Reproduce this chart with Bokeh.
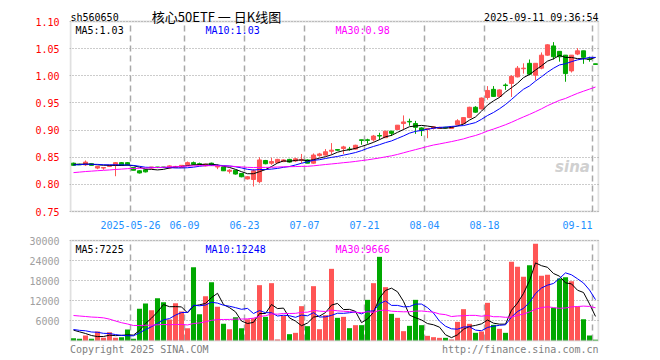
import numpy as np
import pandas as pd
from bokeh.plotting import figure
from bokeh.layouts import column
from bokeh.models import (Range1d, FixedTicker, Label, PrintfTickFormatter,
                          ColumnDataSource, BoxAnnotation)
from bokeh.embed import file_html
from bokeh.resources import INLINE

# ---------------- data ----------------
symbol = "sh560650"
title_text = "核心50ETF 一 日K线图"
timestamp = "2025-09-11 09:36:54"

open_ = [
    0.839, 0.837, 0.836, 0.838, 0.830, 0.830, 0.833, 0.835, 0.840, 0.840,
    0.831, 0.825, 0.827, 0.830, 0.832, 0.832, 0.830, 0.831, 0.831, 0.836,
    0.840, 0.838, 0.834, 0.839, 0.832, 0.832, 0.824, 0.826, 0.820, 0.810,
    0.809, 0.805, 0.844, 0.839, 0.840, 0.842, 0.846, 0.843, 0.844, 0.845,
    0.839, 0.853, 0.854, 0.861, 0.864, 0.866, 0.865, 0.865, 0.882, 0.882,
    0.882, 0.890, 0.886, 0.898, 0.901, 0.912, 0.916, 0.912, 0.904, 0.901,
    0.903, 0.903, 0.905, 0.903, 0.910, 0.912, 0.923, 0.942, 0.939, 0.960,
    0.975, 0.962, 0.983, 0.986, 0.998, 1.013, 1.023, 1.001, 1.014, 1.038,
    1.055, 1.045, 1.038, 1.009, 1.040, 1.046, 1.031, 1.022]
high = [
    0.840, 0.838, 0.844, 0.838, 0.833, 0.831, 0.835, 0.841, 0.841, 0.841,
    0.832, 0.826, 0.828, 0.832, 0.832, 0.832, 0.835, 0.834, 0.835, 0.842,
    0.842, 0.840, 0.838, 0.840, 0.837, 0.832, 0.828, 0.826, 0.821, 0.815,
    0.828, 0.850, 0.845, 0.849, 0.847, 0.846, 0.847, 0.849, 0.856, 0.846,
    0.857, 0.858, 0.865, 0.876, 0.864, 0.871, 0.869, 0.873, 0.882, 0.884,
    0.891, 0.895, 0.898, 0.898, 0.909, 0.927, 0.921, 0.917, 0.905, 0.903,
    0.907, 0.906, 0.906, 0.907, 0.920, 0.924, 0.943, 0.944, 0.960, 0.981,
    0.981, 0.975, 0.986, 1.001, 1.018, 1.023, 1.030, 1.023, 1.043, 1.058,
    1.062, 1.045, 1.038, 1.038, 1.051, 1.046, 1.035, 1.022]
low = [
    0.834, 0.836, 0.834, 0.835, 0.828, 0.827, 0.832, 0.815, 0.835, 0.835,
    0.826, 0.820, 0.822, 0.829, 0.830, 0.830, 0.829, 0.830, 0.830, 0.835,
    0.836, 0.836, 0.833, 0.835, 0.828, 0.825, 0.820, 0.818, 0.813, 0.809,
    0.796, 0.802, 0.837, 0.836, 0.839, 0.841, 0.840, 0.841, 0.839, 0.839,
    0.838, 0.851, 0.853, 0.855, 0.862, 0.856, 0.862, 0.864, 0.873, 0.875,
    0.879, 0.882, 0.886, 0.889, 0.901, 0.901, 0.908, 0.893, 0.889, 0.885,
    0.901, 0.902, 0.903, 0.902, 0.909, 0.911, 0.922, 0.932, 0.938, 0.956,
    0.961, 0.960, 0.974, 0.961, 0.997, 1.004, 1.001, 0.992, 1.012, 1.037,
    1.030, 1.026, 0.989, 1.006, 1.038, 1.022, 1.026, 1.021]
close = [
    0.835, 0.836, 0.841, 0.835, 0.833, 0.831, 0.835, 0.840, 0.835, 0.836,
    0.826, 0.821, 0.823, 0.832, 0.831, 0.831, 0.834, 0.833, 0.835, 0.840,
    0.837, 0.837, 0.837, 0.835, 0.833, 0.825, 0.826, 0.819, 0.814, 0.814,
    0.825, 0.845, 0.838, 0.842, 0.846, 0.845, 0.841, 0.847, 0.846, 0.839,
    0.854, 0.856, 0.860, 0.863, 0.863, 0.869, 0.864, 0.872, 0.881, 0.881,
    0.889, 0.889, 0.898, 0.894, 0.909, 0.915, 0.915, 0.905, 0.899, 0.903,
    0.906, 0.905, 0.904, 0.906, 0.917, 0.923, 0.942, 0.933, 0.959, 0.973,
    0.962, 0.974, 0.982, 0.999, 1.014, 1.014, 1.003, 1.023, 1.038, 1.057,
    1.035, 1.035, 1.004, 1.038, 1.046, 1.034, 1.030, 1.021]
volume = [
    700, 500, 1500, 500, 2700, 800, 2500, 800, 1000, 3300,
    500, 9500, 11100, 9100, 12700, 11500, 6300, 11200, 8700, 3700,
    22000, 7900, 13300, 17500, 10100, 5000, 3400, 7000, 3700, 6400,
    6700, 16600, 7100, 17200, 300, 7400, 1900, 2300, 10300, 4300,
    16300, 3400, 7600, 21500, 6800, 7100, 3700, 4600, 4600, 12200,
    17200, 25100, 16000, 8000, 6800, 2800, 4400, 12200, 4600, 1400,
    1000, 800, 800, 300, 5600, 9400, 5000, 2300, 2700, 11300,
    4700, 3500, 2300, 23600, 22100, 19100, 22600, 29000, 19400, 19700,
    9800, 18600, 19000, 17800, 10200, 6400, 1500, 225]

# sessions before the visible window (implied by where the MA lines start)
hist_close = [0.808, 0.810, 0.812, 0.809, 0.811, 0.814, 0.813, 0.815, 0.812, 0.814,
              0.813, 0.811, 0.814, 0.816, 0.818, 0.817, 0.820, 0.819, 0.822, 0.824,
              0.830, 0.833, 0.836, 0.835, 0.838, 0.836, 0.839, 0.837, 0.838]
hist_volume = [5000, 6000, 5500, 5200, 5300, 14000, 18000, 16000, 15000, 14100,
               9500, 8800, 9200, 8500, 8700, 9000, 8400, 8300, 8500, 9000,
               3000, 2800, 4200, 3500, 4000, 3000, 4000, 3500, 4300]

date_tick_index = [10, 19, 29, 39, 49, 59, 69, 87]
date_tick_labels = ["2025-05-26", "06-09", "06-23", "07-07", "07-21", "08-04", "08-18", "09-11"]
price_ticks = [0.75, 0.80, 0.85, 0.90, 0.95, 1.00, 1.05, 1.10]
volume_ticks = [6000, 12000, 18000, 24000, 30000]
price_ma_text = ["MA5:1.03", "MA10:1.03", "MA30:0.98"]
volume_ma_text = ["MA5:7225", "MA10:12248", "MA30:9666"]
copyright_text = "Copyright 2025 SINA.COM"
url_text = "http://finance.sina.com.cn"
MA_WINDOWS = [5, 10, 30]

# ---------------- style ----------------
RED = "#FF5555"
GREEN = "#00A800"
MA_COLORS = ["#000000", "#0000FF", "#FF00FF"]
BORDER = "#999999"
MONO = "DejaVu Sans Mono"
CJK = "Noto Sans CJK SC"
FS = "10px"
CHAR_W = 6.02

n = len(close)
x = np.arange(n)
H = len(hist_close)


def moving_average(hist, values, w):
    s = pd.Series(list(hist) + list(values), dtype=float)
    return s.rolling(w).mean().to_numpy()[H:]


colors = [RED if c >= o else GREEN for o, c in zip(open_, close)]
src = ColumnDataSource(dict(
    x=x, h=high, l=low,
    top=np.maximum(open_, close), bot=np.minimum(open_, close),
    vol=volume, color=colors))

# geometry: panel box spans page x 70..598 (6 px per session); frames are 1px wider
PLOT_W = 660
LEFT, RIGHT = 69, 61
px_x = 1.0 / 6.0
x_lo, x_hi = -0.5, n - 0.5
X_RANGE = (x_lo - px_x, x_hi + px_x)
grid_x = [i - 0.5 for i in date_tick_index]
label_x = grid_x[:-1] + [grid_x[-1] - len(date_tick_labels[-1]) * CHAR_W / 2 * px_x]


def xp(px):  # page pixel -> x data
    return x_lo + (px - 70) * px_x


def base_fig(height, y0, y1, top, bottom, ybox, ky):
    f = figure(width=PLOT_W, height=height, x_range=Range1d(*X_RANGE),
               y_range=Range1d(y0, y1), output_backend="svg",
               toolbar_location=None, tools="",
               min_border_left=LEFT, min_border_right=RIGHT,
               min_border_top=top, min_border_bottom=bottom,
               background_fill_color="white", border_fill_color="white")
    f.outline_line_color = None
    f.xgrid.visible = False
    f.ygrid.grid_line_color = "#999999"
    f.ygrid.grid_line_dash = "1 2"
    f.ygrid.grid_line_width = 1
    for ax in (f.xaxis[0], f.yaxis[0]):
        ax.axis_line_color = None
        ax.major_tick_line_color = None
        ax.minor_tick_line_color = None
        ax.major_label_text_font = MONO
        ax.major_label_text_font_size = FS
    # vertical date gridlines inside the panel box
    f.segment(x0=grid_x, y0=[ybox[0]] * len(grid_x), x1=grid_x, y1=[ybox[1]] * len(grid_x),
              line_color="#A8A8A8", line_dash="6 4", line_width=1.5)
    # panel border
    f.add_layout(BoxAnnotation(left=x_lo, right=x_hi, bottom=ybox[0], top=ybox[1],
                               fill_color=None, line_color=BORDER, line_width=2))
    return f


# ---------------- price panel: frame page y 0..212, box 21..211 ----------------
P_LO, P_HI = price_ticks[0], price_ticks[-1]
ky = (P_HI - P_LO) / 190
p = base_fig(232, P_LO - ky, P_HI + 21 * ky, 0, 20, (P_LO, P_HI), ky)
p.yaxis.ticker = FixedTicker(ticks=price_ticks)
p.yaxis.formatter = PrintfTickFormatter(format="%.2f")
p.yaxis.major_label_text_color = "#FF0000"
p.yaxis.major_label_standoff = 4
p.ygrid.ticker = FixedTicker(ticks=price_ticks)
p.xaxis.ticker = FixedTicker(ticks=label_x)
p.xaxis.major_label_overrides = {g: t for g, t in zip(label_x, date_tick_labels)}
p.xaxis.major_label_text_color = "#1E90FF"
p.xaxis.major_label_standoff = 2

p.segment("x", "h", "x", "l", source=src, line_color="color", line_width=1)
p.vbar(x="x", width=0.68, top="top", bottom="bot", source=src,
       fill_color="color", line_color="color", line_width=1)
for w, c in zip(MA_WINDOWS, MA_COLORS):
    p.line(x, moving_average(hist_close, close, w), line_color=c, line_width=1)

# header texts (above the box)
p.add_layout(Label(x=xp(70), y=P_HI + 4.5 * ky, text=symbol, text_font=MONO,
                   text_font_size=FS, text_color="#000000", text_baseline="alphabetic"))
p.add_layout(Label(x=xp(216), y=P_HI + 5 * ky, text=title_text, text_font=CJK,
                   text_font_size="13px", text_color="#000000", text_align="center",
                   text_baseline="alphabetic"))
p.add_layout(Label(x=xp(598), y=P_HI + 4.5 * ky, text=timestamp, text_font=MONO,
                   text_font_size=FS, text_color="#000000", text_align="right",
                   text_baseline="alphabetic"))
for t, c, px in zip(price_ma_text, MA_COLORS, [75, 205, 335]):
    p.add_layout(Label(x=xp(px), y=P_HI - 9 * ky, text=t, text_font=MONO,
                       text_font_size=FS, text_color=c, text_baseline="alphabetic"))
p.add_layout(Label(x=xp(572), y=P_LO + 45 * ky, text="sina", text_font="DejaVu Sans",
                   text_font_size="15px", text_font_style="bold italic",
                   text_color="#D0D0D0", text_align="center", text_baseline="alphabetic"))

# ---------------- volume panel: frame page y 239..356, box 240..340 ----------------
vmax = volume_ticks[-1]
kv = vmax / 100
v = base_fig(124, -16 * kv, vmax + kv, 7, 0, (0, vmax), kv)
v.xaxis.visible = False
v.yaxis.ticker = FixedTicker(ticks=volume_ticks)
v.yaxis.major_label_text_color = "#A0A0A0"
v.yaxis.major_label_standoff = 4
v.ygrid.ticker = FixedTicker(ticks=volume_ticks)

v.vbar(x="x", width=0.84, top="vol", bottom=0, source=src,
       fill_color="color", line_color=None)
for w, c in zip(MA_WINDOWS, MA_COLORS):
    v.line(x, moving_average(hist_volume, volume, w), line_color=c, line_width=1)

for t, c, px in zip(volume_ma_text, MA_COLORS, [75, 205, 335]):
    v.add_layout(Label(x=xp(px), y=vmax - 9 * kv, text=t, text_font=MONO,
                       text_font_size=FS, text_color=c, text_baseline="alphabetic"))
# footer texts (below the box)
v.add_layout(Label(x=xp(69.5), y=-9 * kv, text=copyright_text, text_font=MONO,
                   text_font_size=FS, text_color="#808080", text_baseline="alphabetic"))
v.add_layout(Label(x=xp(598), y=-9 * kv, text=url_text, text_font=MONO,
                   text_font_size=FS, text_color="#808080", text_align="right",
                   text_baseline="alphabetic"))

layout = column(p, v, spacing=0)
open("out.html", "w").write(file_html(layout, INLINE))
